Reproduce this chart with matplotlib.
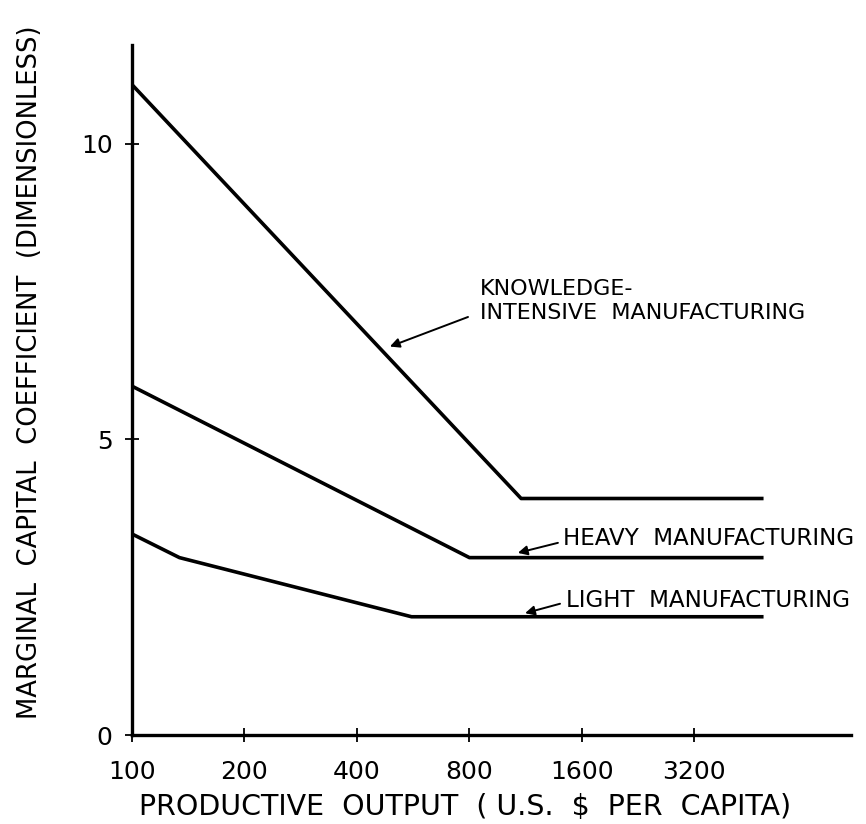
import matplotlib.pyplot as plt
import numpy as np

plt.rcParams['font.family'] = ['DejaVu Sans Condensed', 'Liberation Sans Narrow', 'DejaVu Sans']

# data (x in US $ per capita, y dimensionless)
knowledge_x = [100, 1100, 4900]
knowledge_y = [11.0, 4.0, 4.0]
heavy_x = [100, 800, 4900]
heavy_y = [5.9, 3.0, 3.0]
light_x = [100, 134, 560, 4900]
light_y = [3.4, 3.0, 2.0, 2.0]

xticks = [100, 200, 400, 800, 1600, 3200]
yticks = [0, 5, 10]

fig = plt.figure(figsize=(8.66, 8.24), dpi=100)
ax = fig.add_axes([0.1524, 0.108, 0.8303, 0.8374])

lw = 2.6
for xs, ys in [(knowledge_x, knowledge_y), (heavy_x, heavy_y), (light_x, light_y)]:
    ax.plot(xs, ys, color='black', lw=lw, solid_capstyle='butt')

ax.set_xscale('log', base=2)
ax.set_xlim(100, 8400)
ax.set_ylim(0, 11.67)
ax.set_xticks(xticks)
ax.set_xticklabels([str(t) for t in xticks])
ax.minorticks_off()
ax.set_yticks(yticks)

for s in ['top', 'right']:
    ax.spines[s].set_visible(False)
for s in ['left', 'bottom']:
    ax.spines[s].set_linewidth(2.4)

ax.tick_params(axis='both', direction='inout', length=10, width=1.3, labelsize=18)
ax.tick_params(axis='x', pad=13)
ax.tick_params(axis='y', pad=9)

ax.set_xlabel('PRODUCTIVE  OUTPUT  ( U.S.  $  PER  CAPITA)', fontsize=20.5)
ax.xaxis.set_label_coords(0.463, -0.084)
ax.set_ylabel('MARGINAL  CAPITAL  COEFFICIENT  (DIMENSIONLESS)', fontsize=18.6)
ax.yaxis.set_label_coords(-0.124, 0.526)

arrow = dict(arrowstyle='-|>', color='black', lw=1.4, mutation_scale=14,
             shrinkA=0, shrinkB=0)

# curve labels with leader arrows
ax.text(853, 7.34, 'KNOWLEDGE-\nINTENSIVE  MANUFACTURING', fontsize=16,
        va='center', ha='left', linespacing=1.3)
ax.annotate('', xy=(490, 6.57), xytext=(793, 7.07), arrowprops=arrow)

ax.text(1423, 3.33, 'HEAVY  MANUFACTURING', fontsize=16.6, va='center', ha='left')
ax.annotate('', xy=(1078, 3.08), xytext=(1380, 3.25), arrowprops=arrow)

ax.text(1450, 2.28, 'LIGHT  MANUFACTURING', fontsize=16.6, va='center', ha='left')
ax.annotate('', xy=(1127, 2.06), xytext=(1398, 2.22), arrowprops=arrow)

plt.savefig('out.png', dpi=100)
